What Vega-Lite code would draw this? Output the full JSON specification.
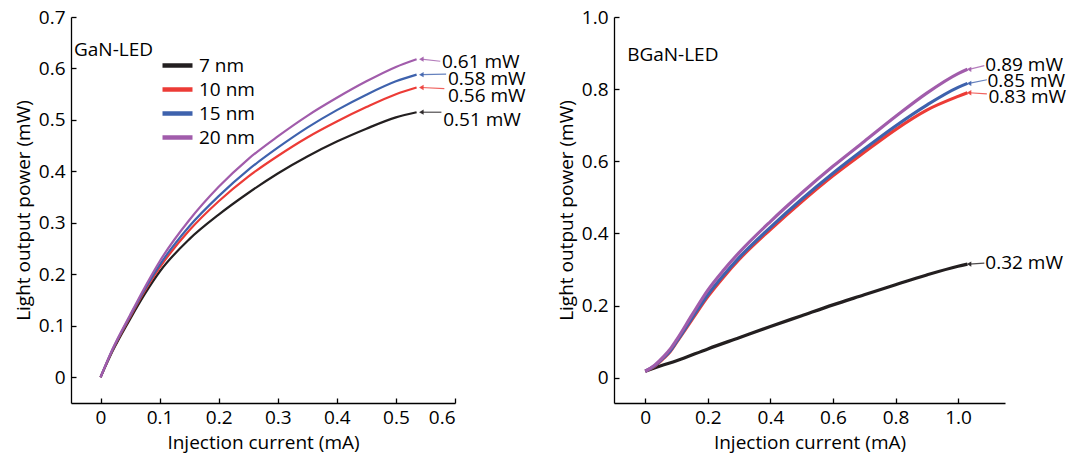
{
  "$schema": "https://vega.github.io/schema/vega-lite/v6.json",
  "background": "white",
  "padding": {"left": 14, "top": 8, "right": 0, "bottom": 12},
  "bounds": "flush",
  "spacing": 159,
  "datasets": {
    "curves": [
      {"panel":"GaN","series":"7 nm","x":0,"y":0},{"panel":"GaN","series":"7 nm","x":0.02,"y":0.05},{"panel":"GaN","series":"7 nm","x":0.05,"y":0.113},{"panel":"GaN","series":"7 nm","x":0.075,"y":0.162},{"panel":"GaN","series":"7 nm","x":0.1,"y":0.205},{"panel":"GaN","series":"7 nm","x":0.15,"y":0.268},{"panel":"GaN","series":"7 nm","x":0.2,"y":0.316},{"panel":"GaN","series":"7 nm","x":0.25,"y":0.358},{"panel":"GaN","series":"7 nm","x":0.3,"y":0.396},{"panel":"GaN","series":"7 nm","x":0.35,"y":0.429},{"panel":"GaN","series":"7 nm","x":0.4,"y":0.458},{"panel":"GaN","series":"7 nm","x":0.45,"y":0.483},{"panel":"GaN","series":"7 nm","x":0.5,"y":0.505},{"panel":"GaN","series":"7 nm","x":0.535,"y":0.515},
      {"panel":"GaN","series":"10 nm","x":0,"y":0},{"panel":"GaN","series":"10 nm","x":0.02,"y":0.052},{"panel":"GaN","series":"10 nm","x":0.05,"y":0.117},{"panel":"GaN","series":"10 nm","x":0.075,"y":0.168},{"panel":"GaN","series":"10 nm","x":0.1,"y":0.213},{"panel":"GaN","series":"10 nm","x":0.15,"y":0.285},{"panel":"GaN","series":"10 nm","x":0.2,"y":0.342},{"panel":"GaN","series":"10 nm","x":0.25,"y":0.39},{"panel":"GaN","series":"10 nm","x":0.3,"y":0.43},{"panel":"GaN","series":"10 nm","x":0.35,"y":0.466},{"panel":"GaN","series":"10 nm","x":0.4,"y":0.497},{"panel":"GaN","series":"10 nm","x":0.45,"y":0.525},{"panel":"GaN","series":"10 nm","x":0.5,"y":0.55},{"panel":"GaN","series":"10 nm","x":0.535,"y":0.563},
      {"panel":"GaN","series":"15 nm","x":0,"y":0},{"panel":"GaN","series":"15 nm","x":0.02,"y":0.053},{"panel":"GaN","series":"15 nm","x":0.05,"y":0.119},{"panel":"GaN","series":"15 nm","x":0.075,"y":0.171},{"panel":"GaN","series":"15 nm","x":0.1,"y":0.218},{"panel":"GaN","series":"15 nm","x":0.15,"y":0.293},{"panel":"GaN","series":"15 nm","x":0.2,"y":0.352},{"panel":"GaN","series":"15 nm","x":0.25,"y":0.403},{"panel":"GaN","series":"15 nm","x":0.3,"y":0.446},{"panel":"GaN","series":"15 nm","x":0.35,"y":0.485},{"panel":"GaN","series":"15 nm","x":0.4,"y":0.519},{"panel":"GaN","series":"15 nm","x":0.45,"y":0.549},{"panel":"GaN","series":"15 nm","x":0.5,"y":0.575},{"panel":"GaN","series":"15 nm","x":0.535,"y":0.588},
      {"panel":"GaN","series":"20 nm","x":0,"y":0},{"panel":"GaN","series":"20 nm","x":0.02,"y":0.054},{"panel":"GaN","series":"20 nm","x":0.05,"y":0.121},{"panel":"GaN","series":"20 nm","x":0.075,"y":0.175},{"panel":"GaN","series":"20 nm","x":0.1,"y":0.225},{"panel":"GaN","series":"20 nm","x":0.15,"y":0.305},{"panel":"GaN","series":"20 nm","x":0.2,"y":0.37},{"panel":"GaN","series":"20 nm","x":0.25,"y":0.424},{"panel":"GaN","series":"20 nm","x":0.3,"y":0.468},{"panel":"GaN","series":"20 nm","x":0.35,"y":0.508},{"panel":"GaN","series":"20 nm","x":0.4,"y":0.543},{"panel":"GaN","series":"20 nm","x":0.45,"y":0.575},{"panel":"GaN","series":"20 nm","x":0.5,"y":0.603},{"panel":"GaN","series":"20 nm","x":0.535,"y":0.618},
      {"panel":"BGaN","series":"7 nm","x":0,"y":0.018},{"panel":"BGaN","series":"7 nm","x":0.05,"y":0.033},{"panel":"BGaN","series":"7 nm","x":0.1,"y":0.047},{"panel":"BGaN","series":"7 nm","x":0.2,"y":0.08},{"panel":"BGaN","series":"7 nm","x":0.3,"y":0.111},{"panel":"BGaN","series":"7 nm","x":0.4,"y":0.142},{"panel":"BGaN","series":"7 nm","x":0.5,"y":0.172},{"panel":"BGaN","series":"7 nm","x":0.6,"y":0.202},{"panel":"BGaN","series":"7 nm","x":0.7,"y":0.23},{"panel":"BGaN","series":"7 nm","x":0.8,"y":0.258},{"panel":"BGaN","series":"7 nm","x":0.9,"y":0.285},{"panel":"BGaN","series":"7 nm","x":1.0,"y":0.309},{"panel":"BGaN","series":"7 nm","x":1.03,"y":0.315},
      {"panel":"BGaN","series":"10 nm","x":0,"y":0.018},{"panel":"BGaN","series":"10 nm","x":0.03,"y":0.032},{"panel":"BGaN","series":"10 nm","x":0.06,"y":0.055},{"panel":"BGaN","series":"10 nm","x":0.08,"y":0.073},{"panel":"BGaN","series":"10 nm","x":0.1,"y":0.098},{"panel":"BGaN","series":"10 nm","x":0.15,"y":0.162},{"panel":"BGaN","series":"10 nm","x":0.2,"y":0.225},{"panel":"BGaN","series":"10 nm","x":0.25,"y":0.279},{"panel":"BGaN","series":"10 nm","x":0.3,"y":0.328},{"panel":"BGaN","series":"10 nm","x":0.4,"y":0.411},{"panel":"BGaN","series":"10 nm","x":0.5,"y":0.488},{"panel":"BGaN","series":"10 nm","x":0.6,"y":0.56},{"panel":"BGaN","series":"10 nm","x":0.7,"y":0.625},{"panel":"BGaN","series":"10 nm","x":0.8,"y":0.688},{"panel":"BGaN","series":"10 nm","x":0.9,"y":0.742},{"panel":"BGaN","series":"10 nm","x":1.0,"y":0.78},{"panel":"BGaN","series":"10 nm","x":1.03,"y":0.79},
      {"panel":"BGaN","series":"15 nm","x":0,"y":0.018},{"panel":"BGaN","series":"15 nm","x":0.03,"y":0.033},{"panel":"BGaN","series":"15 nm","x":0.06,"y":0.057},{"panel":"BGaN","series":"15 nm","x":0.08,"y":0.075},{"panel":"BGaN","series":"15 nm","x":0.1,"y":0.1},{"panel":"BGaN","series":"15 nm","x":0.15,"y":0.166},{"panel":"BGaN","series":"15 nm","x":0.2,"y":0.23},{"panel":"BGaN","series":"15 nm","x":0.25,"y":0.284},{"panel":"BGaN","series":"15 nm","x":0.3,"y":0.333},{"panel":"BGaN","series":"15 nm","x":0.4,"y":0.417},{"panel":"BGaN","series":"15 nm","x":0.5,"y":0.495},{"panel":"BGaN","series":"15 nm","x":0.6,"y":0.567},{"panel":"BGaN","series":"15 nm","x":0.7,"y":0.634},{"panel":"BGaN","series":"15 nm","x":0.8,"y":0.698},{"panel":"BGaN","series":"15 nm","x":0.9,"y":0.756},{"panel":"BGaN","series":"15 nm","x":1.0,"y":0.805},{"panel":"BGaN","series":"15 nm","x":1.03,"y":0.816},
      {"panel":"BGaN","series":"20 nm","x":0,"y":0.018},{"panel":"BGaN","series":"20 nm","x":0.03,"y":0.035},{"panel":"BGaN","series":"20 nm","x":0.06,"y":0.06},{"panel":"BGaN","series":"20 nm","x":0.08,"y":0.08},{"panel":"BGaN","series":"20 nm","x":0.1,"y":0.105},{"panel":"BGaN","series":"20 nm","x":0.15,"y":0.175},{"panel":"BGaN","series":"20 nm","x":0.2,"y":0.243},{"panel":"BGaN","series":"20 nm","x":0.25,"y":0.298},{"panel":"BGaN","series":"20 nm","x":0.3,"y":0.347},{"panel":"BGaN","series":"20 nm","x":0.4,"y":0.433},{"panel":"BGaN","series":"20 nm","x":0.5,"y":0.512},{"panel":"BGaN","series":"20 nm","x":0.6,"y":0.586},{"panel":"BGaN","series":"20 nm","x":0.7,"y":0.655},{"panel":"BGaN","series":"20 nm","x":0.8,"y":0.724},{"panel":"BGaN","series":"20 nm","x":0.9,"y":0.789},{"panel":"BGaN","series":"20 nm","x":1.0,"y":0.843},{"panel":"BGaN","series":"20 nm","x":1.03,"y":0.855}
    ],
    "ends": [
      {"panel":"GaN","series":"20 nm","ex":0.543,"ey":0.618,"lx":0.575,"ly":0.614,"tx":0.578,"ty":0.612,"label":"0.61 mW"},
      {"panel":"GaN","series":"15 nm","ex":0.543,"ey":0.588,"lx":0.585,"ly":0.589,"tx":0.588,"ty":0.579,"label":"0.58 mW"},
      {"panel":"GaN","series":"10 nm","ex":0.543,"ey":0.563,"lx":0.582,"ly":0.561,"tx":0.588,"ty":0.546,"label":"0.56 mW"},
      {"panel":"GaN","series":"7 nm","ex":0.543,"ey":0.515,"lx":0.577,"ly":0.515,"tx":0.58,"ty":0.5,"label":"0.51 mW"},
      {"panel":"BGaN","series":"20 nm","ex":1.035,"ey":0.855,"lx":1.084,"ly":0.865,"tx":1.087,"ty":0.867,"label":"0.89 mW"},
      {"panel":"BGaN","series":"15 nm","ex":1.035,"ey":0.816,"lx":1.092,"ly":0.826,"tx":1.094,"ty":0.822,"label":"0.85 mW"},
      {"panel":"BGaN","series":"10 nm","ex":1.035,"ey":0.79,"lx":1.092,"ly":0.787,"tx":1.097,"ty":0.779,"label":"0.83 mW"},
      {"panel":"BGaN","series":"7 nm","ex":1.035,"ey":0.315,"lx":1.084,"ly":0.318,"tx":1.087,"ty":0.318,"label":"0.32 mW"}
    ],
    "names": [
      {"panel":"GaN","name":"GaN-LED","x":-0.045,"y":0.636},
      {"panel":"BGaN","name":"BGaN-LED","x":-0.058,"y":0.895}
    ]
  },
  "resolve": {"scale": {"x": "independent", "y": "independent", "color": "independent"}, "legend": {"color": "independent"}},
  "hconcat": [
    {
      "width": 384,
      "height": 386,
      "layer": [
        {
          "data": {"name": "curves"},
          "transform": [{"filter": "datum.panel == 'GaN'"}],
          "mark": {"type": "line", "strokeWidth": 2.2, "interpolate": "monotone"},
          "encoding": {
            "x": {"field": "x", "type": "quantitative", "scale": {"domain": [-0.05, 0.6], "nice": false, "zero": false},
                  "axis": {"title": "Injection current (mA)", "values": [0, 0.1, 0.2, 0.3, 0.4, 0.5, 0.6], "labelExpr": "datum.value == 0 ? '0' : format(datum.value, '.1f')"}},
            "y": {"field": "y", "type": "quantitative", "scale": {"domain": [-0.05, 0.7], "nice": false, "zero": false},
                  "axis": {"title": "Light output power (mW)", "values": [0, 0.1, 0.2, 0.3, 0.4, 0.5, 0.6, 0.7], "labelExpr": "datum.value == 0 ? '0' : format(datum.value, '.1f')"}},
            "color": {"field": "series", "type": "nominal",
                      "scale": {"domain": ["7 nm", "10 nm", "15 nm", "20 nm"], "range": ["#231f20", "#ec3b36", "#3e62ad", "#a15cab"]},
                      "legend": {"orient": "none", "legendX": 97, "legendY": 39, "title": null, "symbolType": "M-3,0H3", "symbolSize": 100, "symbolStrokeWidth": 4.5, "labelFont": "Open Sans", "labelFontSize": 19, "labelColor": "#000", "rowPadding": 4, "padding": 0, "labelOffset": 12}},
            "detail": {"field": "series"}
          }
        },
        {
          "data": {"name": "ends"},
          "transform": [{"filter": "datum.panel == 'GaN'"}],
          "mark": {"type": "rule", "strokeWidth": 1.2, "opacity": 0.8},
          "encoding": {
            "x": {"field": "ex", "type": "quantitative"},
            "y": {"field": "ey", "type": "quantitative"},
            "x2": {"field": "lx"},
            "y2": {"field": "ly"},
            "color": {"field": "series", "type": "nominal", "legend": null}
          }
        },
        {
          "data": {"name": "ends"},
          "transform": [{"filter": "datum.panel == 'GaN'"}],
          "mark": {"type": "point", "shape": "triangle-left", "filled": true, "size": 28, "opacity": 0.9},
          "encoding": {
            "x": {"field": "ex", "type": "quantitative"},
            "y": {"field": "ey", "type": "quantitative"},
            "color": {"field": "series", "type": "nominal", "legend": null}
          }
        },
        {
          "data": {"name": "ends"},
          "transform": [{"filter": "datum.panel == 'GaN'"}],
          "mark": {"type": "text", "align": "left", "baseline": "middle", "font": "Open Sans", "fontSize": 19, "color": "#000"},
          "encoding": {
            "x": {"field": "tx", "type": "quantitative"},
            "y": {"field": "ty", "type": "quantitative"},
            "text": {"field": "label"}
          }
        },
        {
          "data": {"name": "names"},
          "transform": [{"filter": "datum.panel == 'GaN'"}],
          "mark": {"type": "text", "align": "left", "baseline": "middle", "font": "Open Sans", "fontSize": 19, "color": "#000"},
          "encoding": {
            "x": {"field": "x", "type": "quantitative"},
            "y": {"field": "y", "type": "quantitative"},
            "text": {"field": "name"}
          }
        }
      ]
    },
    {
      "width": 391,
      "height": 386,
      "layer": [
        {
          "data": {"name": "curves"},
          "transform": [{"filter": "datum.panel == 'BGaN'"}],
          "mark": {"type": "line", "strokeWidth": 3.2, "interpolate": "monotone"},
          "encoding": {
            "x": {"field": "x", "type": "quantitative", "scale": {"domain": [-0.1, 1.15], "nice": false, "zero": false},
                  "axis": {"title": "Injection current (mA)", "values": [0, 0.2, 0.4, 0.6, 0.8, 1.0], "labelExpr": "datum.value == 0 ? '0' : format(datum.value, '.1f')"}},
            "y": {"field": "y", "type": "quantitative", "scale": {"domain": [-0.07, 1.0], "nice": false, "zero": false},
                  "axis": {"title": "Light output power (mW)", "values": [0, 0.2, 0.4, 0.6, 0.8, 1.0], "labelExpr": "datum.value == 0 ? '0' : format(datum.value, '.1f')"}},
            "color": {"field": "series", "type": "nominal",
                      "scale": {"domain": ["7 nm", "10 nm", "15 nm", "20 nm"], "range": ["#231f20", "#ec3b36", "#3e62ad", "#a15cab"]},
                      "legend": null},
            "detail": {"field": "series"}
          }
        },
        {
          "data": {"name": "ends"},
          "transform": [{"filter": "datum.panel == 'BGaN'"}],
          "mark": {"type": "rule", "strokeWidth": 1.2, "opacity": 0.8},
          "encoding": {
            "x": {"field": "ex", "type": "quantitative"},
            "y": {"field": "ey", "type": "quantitative"},
            "x2": {"field": "lx"},
            "y2": {"field": "ly"},
            "color": {"field": "series", "type": "nominal", "legend": null}
          }
        },
        {
          "data": {"name": "ends"},
          "transform": [{"filter": "datum.panel == 'BGaN'"}],
          "mark": {"type": "point", "shape": "triangle-left", "filled": true, "size": 28, "opacity": 0.9},
          "encoding": {
            "x": {"field": "ex", "type": "quantitative"},
            "y": {"field": "ey", "type": "quantitative"},
            "color": {"field": "series", "type": "nominal", "legend": null}
          }
        },
        {
          "data": {"name": "ends"},
          "transform": [{"filter": "datum.panel == 'BGaN'"}],
          "mark": {"type": "text", "align": "left", "baseline": "middle", "font": "Open Sans", "fontSize": 19, "color": "#000"},
          "encoding": {
            "x": {"field": "tx", "type": "quantitative"},
            "y": {"field": "ty", "type": "quantitative"},
            "text": {"field": "label"}
          }
        },
        {
          "data": {"name": "names"},
          "transform": [{"filter": "datum.panel == 'BGaN'"}],
          "mark": {"type": "text", "align": "left", "baseline": "middle", "font": "Open Sans", "fontSize": 19, "color": "#000"},
          "encoding": {
            "x": {"field": "x", "type": "quantitative"},
            "y": {"field": "y", "type": "quantitative"},
            "text": {"field": "name"}
          }
        }
      ]
    }
  ],
  "config": {
    "view": {"stroke": null},
    "axis": {
      "grid": false,
      "domainColor": "#000",
      "domainWidth": 1.3,
      "tickColor": "#000",
      "tickWidth": 1.3,
      "tickSize": -5,
      "labelFont": "Open Sans",
      "labelFontSize": 19,
      "labelColor": "#000",
      "labelPadding": 10,
      "titleFont": "Open Sans",
      "titleFontSize": 19,
      "titleFontWeight": "normal",
      "titleColor": "#000"
    },
    "axisX": {"titlePadding": 6},
    "axisY": {"titlePadding": 5, "labelPadding": 11}
  }
}
